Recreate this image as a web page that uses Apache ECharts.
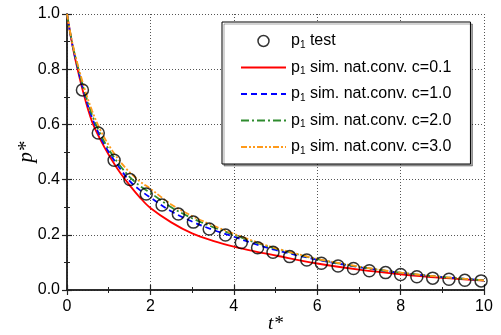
<!DOCTYPE html>
<html>
<head>
<meta charset="utf-8">
<script src="https://cdn.jsdelivr.net/npm/echarts@6/dist/echarts.min.js"></script>
<style>html,body{margin:0;padding:0;background:#fff}#c{width:501px;height:335px}</style>
</head>
<body>
<div id="c"></div>
<script>
// Test data (t*, p*)
const testT = [0.37,0.75,1.13,1.51,1.9,2.28,2.67,3.03,3.41,3.8,4.18,4.57,4.94,5.34,5.75,6.1,6.5,6.87,7.25,7.64,8.0,8.39,8.77,9.16,9.54,9.93];
const testP = [0.725,0.569,0.47,0.40,0.348,0.308,0.275,0.246,0.221,0.199,0.172,0.153,0.137,0.121,0.109,0.097,0.087,0.078,0.070,0.063,0.056,0.048,0.043,0.039,0.035,0.033];
// Simulation curves
const simT = [0,0.1,0.2,0.4,0.6,0.8,1.0,1.25,1.5,1.75,2,2.5,3,3.5,4,4.5,5,6,7,8,9,10];
const simC01 = [1.0,0.91,0.835,0.71,0.61,0.545,0.49,0.43,0.38,0.335,0.297,0.245,0.205,0.178,0.157,0.14,0.125,0.096,0.074,0.057,0.044,0.034];
const simC10 = [1.0,0.912,0.84,0.72,0.625,0.555,0.50,0.445,0.395,0.362,0.335,0.285,0.248,0.218,0.193,0.167,0.145,0.11,0.083,0.062,0.047,0.035];
const simC20 = [1.0,0.914,0.845,0.73,0.635,0.565,0.51,0.455,0.41,0.377,0.352,0.3,0.26,0.228,0.2,0.173,0.15,0.112,0.084,0.063,0.047,0.035];
const simC30 = [1.0,0.916,0.85,0.74,0.65,0.58,0.525,0.47,0.427,0.393,0.367,0.31,0.268,0.234,0.204,0.176,0.152,0.113,0.085,0.063,0.047,0.035];
const seriesNames = ['p1 test','p1 sim. nat.conv. c=0.1','p1 sim. nat.conv. c=1.0','p1 sim. nat.conv. c=2.0','p1 sim. nat.conv. c=3.0'];
const xTicks = [0,2,4,6,8,10];
const yTicks = [0.0,0.2,0.4,0.6,0.8,1.0];

const zip = (a,b) => a.map((v,i)=>[v,b[i]]);
const chart = echarts.init(document.getElementById('c'));
const axisCommon = {
  axisLine:{show:true,lineStyle:{color:'#222',width:1.5}},
  axisTick:{show:true,inside:true,length:5,lineStyle:{color:'#222',width:1.2}},
  minorTick:{show:true,splitNumber:2,length:3,lineStyle:{color:'#222',width:1}},
};
const lineSeries = (name,data,color,type,width) => ({
  name, type:'line', data:zip(simT,data), symbol:'none', smooth:0.35, z:2,
  lineStyle:{color,width:width||1.6,type}, itemStyle:{color}
});
const hidSym = {opacity:0};
chart.setOption({
  animation:false,
  grid:{left:67,right:17,top:14,bottom:45,show:false,containLabel:false,outerBoundsMode:'none'},
  legend:{
    orient:'vertical', left:222, top:22,
    padding:[11,19,8,18], itemGap:9.5, itemWidth:45, itemHeight:11,
    borderColor:'#000', borderWidth:1, backgroundColor:'#fff',
    shadowColor:'rgba(0,0,0,0.35)', shadowOffsetX:2, shadowOffsetY:2, shadowBlur:0,
    data:[{name:seriesNames[0],icon:'circle',itemStyle:{color:'transparent',borderColor:'#000',borderWidth:1.5}},
          {name:seriesNames[1],itemStyle:hidSym},{name:seriesNames[2],itemStyle:hidSym},
          {name:seriesNames[3],itemStyle:hidSym},{name:seriesNames[4],itemStyle:hidSym}],
    formatter: n => '{a|p}{s|1}{a|' + n.slice(2) + '}',
    textStyle:{fontFamily:'Liberation Sans, Arial',fontSize:16,color:'#000',
      rich:{a:{fontFamily:'Liberation Sans, Arial',fontSize:16,lineHeight:18,color:'#000'},
            s:{fontFamily:'Liberation Sans, Arial',fontSize:10,lineHeight:18,verticalAlign:'bottom',padding:[6,0,0,0],color:'#000'}}}
  },
  xAxis:[{
    type:'value', min:0, max:10, interval:2, ...axisCommon,
    name:'t*', nameLocation:'middle', nameGap:24, nameMoveOverlap:false,
    nameTextStyle:{fontFamily:'Liberation Serif, Times New Roman',fontStyle:'italic',fontSize:19,color:'#000'},
    axisLabel:{fontFamily:'Liberation Sans, Arial',fontSize:16,color:'#000',margin:9,formatter:v=>xTicks.includes(v)?String(v):''},
    splitLine:{show:true,lineStyle:{color:'#555',type:[1,2],width:1}}
  },{
    type:'value', min:0, max:10, interval:2, position:'top', ...axisCommon,
    axisLabel:{show:false}, splitLine:{show:false}
  }],
  yAxis:[{
    type:'value', min:0, max:1, interval:0.2, ...axisCommon,
    name:'p*', nameLocation:'middle', nameGap:30, nameMoveOverlap:false,
    nameTextStyle:{fontFamily:'Liberation Serif, Times New Roman',fontStyle:'italic',fontSize:21,color:'#000'},
    axisLabel:{fontFamily:'Liberation Sans, Arial',fontSize:16,color:'#000',margin:7,formatter:v=>v.toFixed(1)},
    splitLine:{show:true,lineStyle:{color:'#555',type:[1,2],width:1}}
  },{
    type:'value', min:0, max:1, interval:0.2, position:'right', ...axisCommon,
    axisLabel:{show:false}, splitLine:{show:false}
  }],
  series:[
    {name:seriesNames[0], type:'scatter', data:zip(testT,testP), symbol:'circle', symbolSize:12, symbolKeepAspect:true, z:5,
     itemStyle:{color:'transparent',borderColor:'#000',borderWidth:1.5}},
    lineSeries(seriesNames[1],simC01,'#ff0000','solid',1.8),
    lineSeries(seriesNames[2],simC10,'#0000ff',[6,4],1.8),
    lineSeries(seriesNames[3],simC20,'#2e8b2e',[8,3,2,3],1.8),
    lineSeries(seriesNames[4],simC30,'#ff9a1a',[6,2,2,2,2,2],1.8)
  ]
});
</script>
</body>
</html>
